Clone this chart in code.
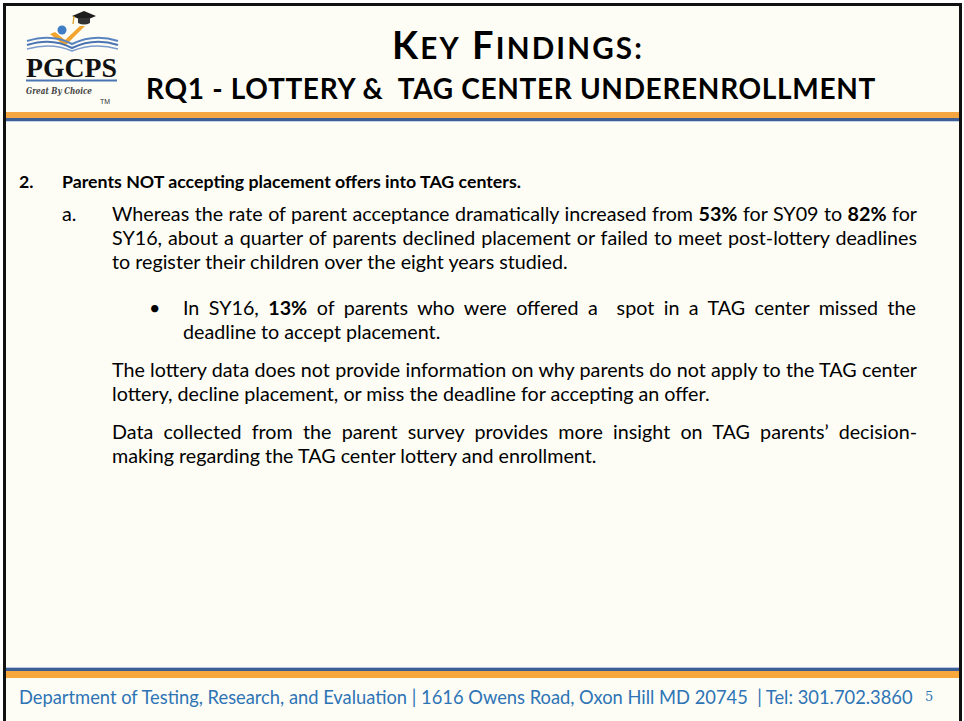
<!DOCTYPE html>
<html lang="en">
<head>
<meta charset="UTF-8">
<title>Key Findings - RQ1</title>
<script src="https://cdn.jsdelivr.net/npm/chart.js"></script>
<style>
    html, body { margin: 0; padding: 0; background: #fff; }
    body { width: 964px; height: 721px; position: relative; overflow: hidden; font-family: Lato, "Open Sans", sans-serif; color: #000; }
    .slide { position: absolute; left: 3px; top: 3px; width: 953px; height: 730px; border: 3px solid #111; background: #fdfdf6; }
    .bar { position: absolute; left: 6px; width: 953px; }
    .ln { position: absolute; white-space: nowrap; line-height: 20px; }
    .title1 { position: absolute; left: 392px; top: 24px; font-weight: 700; line-height: 40px; white-space: nowrap; }
    .title1 .sc { font-size: 0.78em; }
    .title2 { position: absolute; left: 146px; top: 72px; font-weight: 700; font-size: 28px; line-height: 32px; white-space: nowrap; }
    .footer { position: absolute; left: 19px; top: 687px; line-height: 20px; color: #2e74b5; white-space: nowrap; }
    .pnum { position: absolute; left: 925px; top: 687px; line-height: 20px; font-size: 13px; color: #2e74b5; font-family: "DejaVu Serif", serif; }
</style>
</head>
<body>
<div class="slide"></div>

<!-- logo -->
<svg style="position:absolute;left:0;top:0" width="140" height="112" viewBox="0 0 140 112">
    <path d="M72 16 L84 11 L96 16 L84 21 Z" fill="#1d1d1d"/>
    <path d="M78 18 L78 23 Q84 26 90 23 L90 18" fill="#333"/>
    <line x1="74" y1="16" x2="73" y2="24" stroke="#d89a20" stroke-width="1.2"/>
    <circle cx="62" cy="30" r="4.5" fill="#3f7ec6"/>
    <path d="M50 34 L65 46 L85 26 L80 26 L65 40 L55 32 Z" fill="#f2a52e"/>
    <path d="M27 41 Q52 33 72 44 Q94 33 118 41" stroke="#5a84c0" stroke-width="2" fill="none"/>
    <path d="M27 45 Q52 37 72 48 Q94 37 118 45" stroke="#4a74b2" stroke-width="2" fill="none"/>
    <path d="M27 49 Q52 42 72 51 Q94 42 118 49" stroke="#7b9ccc" stroke-width="1.5" fill="none"/>
    <text x="26" y="77" font-family="Liberation Serif, serif" font-weight="700" font-size="28" textLength="91" lengthAdjust="spacingAndGlyphs" fill="#111">PGCPS</text>
    <line x1="26" y1="80.5" x2="117" y2="80.5" stroke="#4a74b2" stroke-width="2"/>
    <text x="26" y="94" font-family="DejaVu Serif, serif" font-style="italic" font-weight="700" font-size="10" textLength="66" lengthAdjust="spacingAndGlyphs" fill="#444">Great By Choice</text>
    <text x="100" y="104" font-family="Liberation Sans, sans-serif" font-size="7" fill="#333">TM</text>
</svg>

<div id="title1" class="title1"></div>
<div id="title2" class="title2"></div>

<div class="bar" style="top:112px;height:6px;background:#f5a640"></div>
<div class="bar" style="top:118px;height:3px;background:#3e5f95"></div>
<div class="bar" style="top:121px;height:1px;background:#c5d3e8"></div>

<div class="bar" style="top:667px;height:1px;background:#b8c8e0"></div>
<div class="bar" style="top:668px;height:3px;background:#3e5f95"></div>
<div class="bar" style="top:671px;height:7px;background:#f7a73c"></div>

<div id="text"></div>
<div id="footer" class="footer"></div>
<div id="pnum" class="pnum"></div>

<script>
// slide text
const titleWords = [['K', 'EY'], ['F', 'INDINGS:']];
const subtitle = 'RQ1 - LOTTERY &amp;&nbsp; TAG CENTER UNDERENROLLMENT';
const markers = ['2.', 'a.', '\u2022'];
const markerX = [19, 62, 149];
const markerY = [181, 214, 308];
const heading = 'Parents NOT accepting placement offers into TAG centers.';
// [x, centre y, justified width (0 = ragged), html]
const bodyLines = [
    [112, 214, 805, 'Whereas the rate of parent acceptance dramatically increased from <b>53%</b> for SY09 to <b>82%</b> for'],
    [112, 238, 805, 'SY16, about a quarter of parents declined placement or failed to meet post-lottery deadlines'],
    [112, 262, 0, 'to register their children over the eight years studied.'],
    [183, 308, 733, 'In SY16, <b>13%</b> of parents who were offered a&nbsp; spot in a TAG center missed the'],
    [183, 332, 0, 'deadline to accept placement.'],
    [112, 370, 805, 'The lottery data does not provide information on why parents do not apply to the TAG center'],
    [112, 394, 0, 'lottery, decline placement, or miss the deadline for accepting an offer.'],
    [112, 432, 805, 'Data collected from the parent survey provides more insight on TAG parents\u2019 decision-'],
    [112, 456, 0, 'making regarding the TAG center lottery and enrollment.']
];
const footerText = 'Department of Testing, Research, and Evaluation | 1616 Owens Road, Oxon Hill MD 20745&nbsp; | Tel: 301.702.3860';
const pageNum = '5';

// widths, used to size text
const bodyRefLine = 2, bodyRefWidth = 456;
const headingWidth = 459, titleWidth = 252, subtitleWidth = 730, footerWidth = 894;

function width(el) { return el.getBoundingClientRect().width; }
function fitSize(el, base, target) {
    el.style.fontSize = base + 'px';
    var s = base * target / width(el);
    el.style.fontSize = s + 'px';
    return s;
}
function fitSpacing(el, target) {
    var n = el.textContent.length;
    el.style.letterSpacing = '0px';
    el.style.letterSpacing = ((target - width(el)) / n) + 'px';
}

var t1 = document.getElementById('title1');
t1.innerHTML = titleWords.map(function (w) { return w[0] + '<span class="sc">' + w[1] + '</span>'; }).join(' ');
var ts = fitSize(t1, 34, titleWidth);
if (ts > 38) { t1.style.fontSize = '38px'; fitSpacing(t1, titleWidth); }
var t2 = document.getElementById('title2');
t2.innerHTML = subtitle;
fitSpacing(t2, subtitleWidth);
var ft = document.getElementById('footer');
ft.innerHTML = footerText;
fitSize(ft, 16, footerWidth);
document.getElementById('pnum').innerHTML = pageNum;

var holder = document.getElementById('text');
function addLine(x, y, html, bold) {
    var d = document.createElement('div');
    d.className = 'ln';
    d.style.left = x + 'px';
    d.style.top = (y - 10) + 'px';
    if (bold) d.style.fontWeight = '700';
    d.innerHTML = html;
    holder.appendChild(d);
    return d;
}

var hd = addLine(62, 181, heading, true);
var headSize = fitSize(hd, 17, headingWidth);

// body font size from one ragged line
var probe = addLine(bodyLines[bodyRefLine][0], bodyLines[bodyRefLine][1], bodyLines[bodyRefLine][3]);
var bodySize = fitSize(probe, 17, bodyRefWidth);
holder.removeChild(probe);

markers.forEach(function (m, i) {
    var d = addLine(markerX[i], markerY[i], m, i === 0);
    d.style.fontSize = (i === 0 ? headSize : bodySize) + 'px';
});
bodyLines.forEach(function (l) {
    var d = addLine(l[0], l[1], l[3]);
    d.style.fontSize = bodySize + 'px';
    if (l[2]) {
        var gaps = (d.textContent.match(/[ \u00a0]/g) || []).length;
        d.style.wordSpacing = ((l[2] - width(d)) / gaps) + 'px';
    }
});
</script>
</body>
</html>
